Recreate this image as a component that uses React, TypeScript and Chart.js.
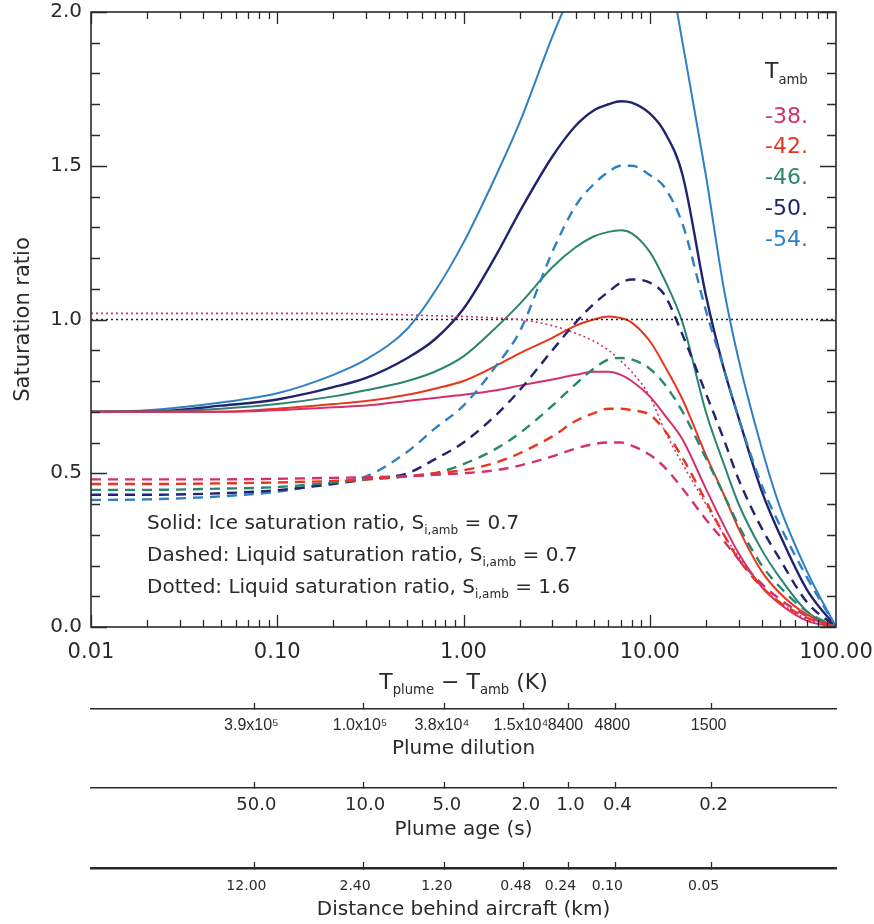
import React, { useEffect, useRef } from 'react';
import { Chart, registerables } from 'chart.js';

Chart.register(...registerables);

const FONT = '"DejaVu Sans", sans-serif';
const NARROW = '"Liberation Sans", "DejaVu Sans", sans-serif';
const INK = '#2a2a2a';

// Plume-ambient temperature difference (K), x grid of the curves
const T_K = [0.01, 0.02, 0.05, 0.1, 0.2, 0.3, 0.5, 0.7, 1, 1.5, 2, 3, 4, 5, 6, 7, 8, 10, 12, 15, 20, 25, 30, 40, 50, 70, 100];

// Solid: ice saturation ratio, S_i,amb = 0.7
const ICE_M38 = [0.70, 0.70, 0.70, 0.705, 0.715, 0.72, 0.735, 0.745, 0.755, 0.77, 0.785, 0.805, 0.82, 0.83, 0.83, 0.82, 0.80, 0.75, 0.69, 0.61, 0.45, 0.33, 0.24, 0.13, 0.075, 0.02, 0.0];
const ICE_M42 = [0.70, 0.70, 0.70, 0.71, 0.725, 0.735, 0.755, 0.775, 0.80, 0.85, 0.89, 0.94, 0.98, 1.0, 1.01, 1.005, 0.99, 0.93, 0.85, 0.74, 0.56, 0.43, 0.32, 0.18, 0.11, 0.04, 0.0];
const ICE_M46 = [0.70, 0.70, 0.71, 0.725, 0.75, 0.77, 0.80, 0.83, 0.88, 0.975, 1.05, 1.17, 1.235, 1.27, 1.285, 1.29, 1.28, 1.22, 1.13, 0.99, 0.70, 0.53, 0.40, 0.25, 0.16, 0.05, 0.0];
const ICE_M50 = [0.70, 0.70, 0.72, 0.74, 0.78, 0.81, 0.875, 0.935, 1.035, 1.21, 1.35, 1.53, 1.63, 1.68, 1.70, 1.71, 1.705, 1.67, 1.61, 1.47, 1.08, 0.84, 0.68, 0.44, 0.30, 0.12, 0.0];
const ICE_M54 = [0.70, 0.705, 0.73, 0.76, 0.82, 0.87, 0.97, 1.09, 1.25, 1.47, 1.64, 1.92, 2.10, 2.25, 2.35, 2.40, 2.42, 2.36, 2.22, 1.90, 1.47, 1.10, 0.87, 0.58, 0.39, 0.18, 0.0];

// Dashed: liquid saturation ratio, S_i,amb = 0.7
const LIQ_M38 = [0.48, 0.48, 0.48, 0.482, 0.485, 0.487, 0.49, 0.495, 0.50, 0.51, 0.525, 0.555, 0.58, 0.595, 0.60, 0.60, 0.59, 0.56, 0.52, 0.45, 0.35, 0.28, 0.22, 0.14, 0.09, 0.035, 0.0];
const LIQ_M42 = [0.465, 0.465, 0.467, 0.47, 0.475, 0.48, 0.49, 0.50, 0.51, 0.535, 0.565, 0.62, 0.67, 0.695, 0.71, 0.71, 0.705, 0.69, 0.64, 0.55, 0.41, 0.30, 0.22, 0.13, 0.08, 0.03, 0.0];
const LIQ_M46 = [0.446, 0.446, 0.45, 0.455, 0.47, 0.48, 0.49, 0.50, 0.53, 0.58, 0.63, 0.72, 0.79, 0.84, 0.87, 0.875, 0.87, 0.84, 0.79, 0.70, 0.55, 0.43, 0.33, 0.20, 0.13, 0.05, 0.0];
const LIQ_M50 = [0.43, 0.43, 0.435, 0.445, 0.465, 0.48, 0.50, 0.545, 0.60, 0.69, 0.77, 0.90, 0.99, 1.05, 1.09, 1.12, 1.13, 1.12, 1.08, 0.95, 0.76, 0.61, 0.48, 0.32, 0.22, 0.08, 0.0];
const LIQ_M54 = [0.413, 0.415, 0.425, 0.44, 0.47, 0.49, 0.57, 0.645, 0.72, 0.85, 0.96, 1.22, 1.37, 1.44, 1.48, 1.50, 1.50, 1.47, 1.43, 1.31, 1.03, 0.84, 0.68, 0.46, 0.33, 0.16, 0.0];

// Dotted: liquid saturation ratio, S_i,amb = 1.6
const DOT_M38 = [1.02, 1.02, 1.02, 1.02, 1.02, 1.018, 1.015, 1.012, 1.01, 1.005, 1.0, 0.98, 0.955, 0.93, 0.90, 0.865, 0.83, 0.75, 0.64, 0.53, 0.40, 0.30, 0.23, 0.13, 0.08, 0.025, 0.0];

// Water saturation reference line
const REF_T = [0.01, 100];
const REF_S = [1.0, 1.0];

const TEMP_LABELS = ['-38.', '-42.', '-46.', '-50.', '-54.'];
const TEMP_COLORS = ['#d4306c', '#e8361e', '#2a8570', '#22226e', '#2f80c2'];

const X_MAJOR = [0.01, 0.1, 1, 10, 100];
const Y_STEP = 0.5;

// Secondary scales, tick positions expressed in T_plume - T_amb (K)
const AUX_T = [0.0754, 0.289, 0.794, 2.11, 3.66, 6.53, 21.5];
const DILUTION_LABELS = ['3.9x10\u2075', '1.0x10\u2075', '3.8x10\u2074', '1.5x10\u2074', '8400', '4800', '1500'];
const AGE_LABELS = ['50.0', '10.0', '5.0', '2.0', '1.0', '0.4', '0.2'];
const DISTANCE_LABELS = ['12.00', '2.40', '1.20', '0.48', '0.24', '0.10', '0.05'];

const NOTES = [
  { head: 'Solid: Ice saturation ratio, S', val: ' = 0.7' },
  { head: 'Dashed: Liquid saturation ratio, S', val: ' = 0.7' },
  { head: 'Dotted: Liquid saturation ratio, S', val: ' = 1.6' },
];

type Part = { t: string; sub?: boolean };

function drawRich(ctx: CanvasRenderingContext2D, parts: Part[], x: number, y: number, size: number, align: 'left' | 'center', color: string, subScale = 0.62, subDrop = 0.34) {
  const subSize = size * subScale;
  let w = 0;
  const widths = parts.map((p) => {
    ctx.font = `${p.sub ? subSize : size}px ${FONT}`;
    const m = ctx.measureText(p.t).width;
    w += m;
    return m;
  });
  let cx = align === 'center' ? x - w / 2 : x;
  ctx.fillStyle = color;
  ctx.textAlign = 'left';
  ctx.textBaseline = 'middle';
  parts.forEach((p, i) => {
    ctx.font = `${p.sub ? subSize : size}px ${FONT}`;
    ctx.fillText(p.t, cx, y + (p.sub ? size * subDrop : 0));
    cx += widths[i];
  });
}

const framePlugin = {
  id: 'frameAndText',
  afterDraw(chart: any) {
    const { ctx, chartArea: a, scales } = chart;
    const xs = scales.x;
    const ys = scales.y;
    ctx.save();
    ctx.strokeStyle = INK;
    ctx.lineWidth = 1.6;
    ctx.strokeRect(a.left, a.top, a.right - a.left, a.bottom - a.top);
    ctx.lineWidth = 1.3;
    ctx.beginPath();
    for (let d = -2; d < 2; d++) {
      for (let m = 1; m < 10; m++) {
        const v = m * Math.pow(10, d);
        const px = Math.round(xs.getPixelForValue(v)) + 0.5;
        const L = m === 1 ? 12 : 7;
        ctx.moveTo(px, a.bottom);
        ctx.lineTo(px, a.bottom - L);
        ctx.moveTo(px, a.top);
        ctx.lineTo(px, a.top + L);
      }
    }
    for (let k = 0; k <= 20; k++) {
      const v = k / 10;
      const py = Math.round(ys.getPixelForValue(v)) + 0.5;
      const L = k % 5 === 0 ? 16 : 9;
      ctx.moveTo(a.left, py);
      ctx.lineTo(a.left + L, py);
      ctx.moveTo(a.right, py);
      ctx.lineTo(a.right - L, py);
    }
    ctx.stroke();

    // x-axis title
    drawRich(ctx, [{ t: 'T' }, { t: 'plume', sub: true }, { t: ' \u2212 T' }, { t: 'amb', sub: true }, { t: ' (K)' }], (a.left + a.right) / 2, xs.top + 56, 22, 'center', INK, 0.6, 0.36);

    // legend
    drawRich(ctx, [{ t: 'T' }, { t: 'amb', sub: true }], 765, 72, 22, 'left', INK, 0.6, 0.4);
    TEMP_LABELS.forEach((lab, i) => {
      ctx.font = `22px ${FONT}`;
      ctx.fillStyle = TEMP_COLORS[i];
      ctx.textAlign = 'left';
      ctx.textBaseline = 'middle';
      ctx.fillText(lab, 765, 117 + i * 30.7);
    });

    // annotations
    NOTES.forEach((n, i) => {
      drawRich(ctx, [{ t: n.head }, { t: 'i,amb', sub: true }, { t: n.val }], 147, 524 + i * 32, 20, 'left', INK, 0.6, 0.36);
    });
    ctx.restore();
  },
};

function auxScale(labels: string[], weight: number, height: number, title: string, labelFont: string, labelSize: number, labelPad: number, titlePad: number, borderW: number, labelOffset = 0) {
  return {
    type: 'logarithmic',
    position: 'bottom',
    min: 0.01,
    max: 100,
    weight,
    afterBuildTicks: (s: any) => {
      s.ticks = AUX_T.map((v) => ({ value: v }));
    },
    afterFit: (s: any) => {
      s.height = height;
      s.paddingLeft = 0;
      s.paddingRight = 0;
    },
    grid: { display: true, drawOnChartArea: false, drawTicks: true, tickLength: -6, color: INK, tickWidth: 1.3 },
    border: { display: true, color: INK, width: borderW },
    ticks: {
      autoSkip: false,
      maxRotation: 0,
      minRotation: 0,
      padding: labelPad,
      labelOffset,
      color: INK,
      font: { family: labelFont, size: labelSize },
      callback: (_v: any, i: number) => labels[i],
    },
    title: { display: true, text: title, color: INK, font: { family: FONT, size: 20 }, padding: { top: 0, bottom: titlePad } },
  };
}

export default function App() {
  const ref = useRef<HTMLCanvasElement>(null);

  useEffect(() => {
    document.body.style.margin = '0';
    const pts = (ys: number[]) => T_K.map((t, i) => ({ x: t, y: ys[i] }));
    const ICE = [ICE_M38, ICE_M42, ICE_M46, ICE_M50, ICE_M54];
    const LIQ = [LIQ_M38, LIQ_M42, LIQ_M46, LIQ_M50, LIQ_M54];
    const common = { pointRadius: 0, pointHoverRadius: 0, fill: false, cubicInterpolationMode: 'monotone' };
    const datasets: any[] = [
      ...LIQ.map((ys, i) => ({ ...common, label: `liq ${TEMP_LABELS[i]}`, data: pts(ys), borderColor: TEMP_COLORS[i], borderWidth: 2.4, borderDash: [10, 7] })),
      { ...common, label: 'dot -38', data: pts(DOT_M38), borderColor: TEMP_COLORS[0], borderWidth: 1.6, borderDash: [2, 3] },
      { ...common, label: 'ref', data: REF_T.map((t, i) => ({ x: t, y: REF_S[i] })), borderColor: '#222', borderWidth: 1.4, borderDash: [2, 3] },
      ...ICE.map((ys, i) => ({ ...common, label: `ice ${TEMP_LABELS[i]}`, data: pts(ys), borderColor: TEMP_COLORS[i], borderWidth: i === 3 ? 2.4 : 2 })),
    ];

    const chart = new Chart(ref.current as HTMLCanvasElement, {
      type: 'line',
      data: { datasets },
      plugins: [framePlugin],
      options: {
        responsive: false,
        animation: false,
        events: [],
        layout: { padding: { left: 0, right: 38, top: 12, bottom: 0 } },
        plugins: { legend: { display: false }, tooltip: { enabled: false } },
        scales: {
          x: {
            type: 'logarithmic',
            position: 'bottom',
            min: 0.01,
            max: 100,
            weight: 0,
            afterBuildTicks: (s: any) => {
              s.ticks = X_MAJOR.map((v) => ({ value: v }));
            },
            afterFit: (s: any) => {
              s.height = 82;
              s.paddingLeft = 0;
              s.paddingRight = 0;
            },
            grid: { display: false, drawTicks: false },
            border: { display: false },
            ticks: {
              autoSkip: false,
              maxRotation: 0,
              padding: 12.5,
              color: INK,
              font: { family: FONT, size: 21 },
              callback: (v: any) => Number(v).toFixed(2),
            },
          },
          dil: auxScale(DILUTION_LABELS, 1, 79, 'Plume dilution', NARROW, 16, 13.4, 27, 1.6, -3),
          age: auxScale(AGE_LABELS, 2, 80, 'Plume age (s)', FONT, 18, 12.2, 26, 1.6, 2),
          dist: auxScale(DISTANCE_LABELS, 3, 56, 'Distance behind aircraft (km)', FONT, 14, 15.6, 2, 2.6, -8),
          y: {
            type: 'linear',
            position: 'left',
            min: 0,
            max: 2,
            afterFit: (s: any) => {
              s.width = 91;
              s.paddingTop = 0;
              s.paddingBottom = 0;
            },
            grid: { display: false, drawTicks: false },
            border: { display: false },
            ticks: {
              stepSize: Y_STEP,
              padding: 9,
              color: INK,
              font: { family: FONT, size: 20 },
              callback: (v: any) => Number(v).toFixed(1),
            },
            title: { display: true, text: 'Saturation ratio', color: INK, font: { family: FONT, size: 21 }, padding: { top: 11, bottom: 0 } },
          },
        },
      } as any,
    } as any);
    return () => chart.destroy();
  }, []);

  return (
    <div style={{ width: 874, height: 924 }}>
      <canvas ref={ref} width={874} height={924} style={{ display: 'block' }} />
    </div>
  );
}
